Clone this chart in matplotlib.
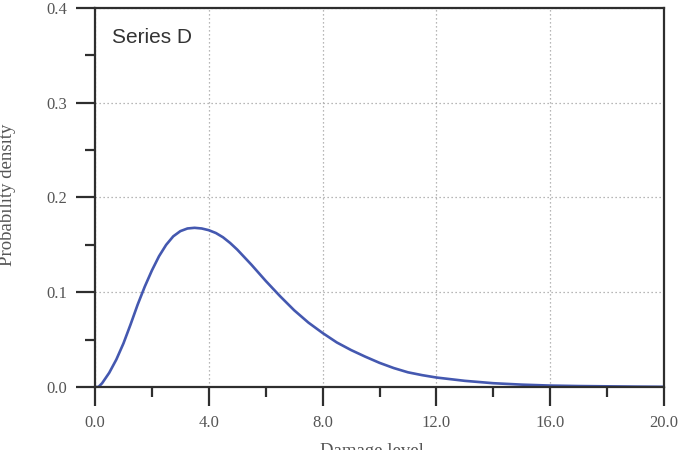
import matplotlib
matplotlib.use("Agg")
import matplotlib.pyplot as plt
from matplotlib.ticker import MultipleLocator, FormatStrFormatter

# --- Data ---
damage = [0.0, 0.12, 0.25, 0.5, 0.75, 1.0, 1.25, 1.5, 1.75, 2.0, 2.25, 2.5, 2.75,
          3.0, 3.25, 3.5, 3.75, 4.0, 4.25, 4.5, 4.75, 5.0, 5.25, 5.5, 5.75,
          6.0, 6.25, 6.5, 6.75, 7.0, 7.25, 7.5, 7.75, 8.0, 8.5, 9.0, 9.5,
          10.0, 10.5, 11.0, 11.5, 12.0, 13.0, 14.0, 15.0, 16.0, 17.0, 18.0,
          19.0, 20.0]
density = [0.0, 0.0, 0.004, 0.015, 0.029, 0.046, 0.066, 0.087, 0.106, 0.123,
           0.138, 0.150, 0.159, 0.1645, 0.1673, 0.168, 0.1673, 0.1655, 0.1625,
           0.158, 0.152, 0.145, 0.137, 0.129, 0.1205, 0.112, 0.104, 0.096,
           0.0885, 0.081, 0.0745, 0.068, 0.0625, 0.057, 0.047, 0.039, 0.032,
           0.0255, 0.020, 0.0155, 0.0125, 0.010, 0.0065, 0.004, 0.0025, 0.0015,
           0.001, 0.0007, 0.0004, 0.0002]
series_name = "Series D"

# --- Figure ---
fig = plt.figure(figsize=(6.85, 4.5), dpi=100)
ax = fig.add_axes([95 / 685, 1 - 387 / 450, 569 / 685, 379 / 450])

ax.plot(damage, density, color="#4458b0", lw=1.9, solid_joinstyle="round",
        solid_capstyle="round")

ax.set_xlim(0, 20)
ax.set_ylim(0, 0.4)
ax.xaxis.set_major_locator(MultipleLocator(4))
ax.xaxis.set_minor_locator(MultipleLocator(2))
ax.yaxis.set_major_locator(MultipleLocator(0.1))
ax.yaxis.set_minor_locator(MultipleLocator(0.05))
ax.xaxis.set_major_formatter(FormatStrFormatter("%.1f"))
ax.yaxis.set_major_formatter(FormatStrFormatter("%.1f"))

ax.grid(True, which="major", color="#a0a0a0", lw=0.9, linestyle=(0, (1, 2.2)))

for sp in ax.spines.values():
    sp.set_linewidth(1.6)
    sp.set_color("#2e2e2e")

ax.tick_params(which="major", direction="out", length=14, width=1.6,
               color="#2e2e2e", labelsize=12, labelcolor="#555555", pad=6)
ax.tick_params(which="minor", direction="out", length=7, width=1.6,
               color="#2e2e2e")
for lbl in ax.get_xticklabels() + ax.get_yticklabels():
    lbl.set_family("Liberation Serif")

ax.text(0.030, 0.907, series_name, transform=ax.transAxes, fontsize=15,
        family="Liberation Sans", color="#333333", va="baseline")

fig.text(372 / 685, 1 - 452 / 450, "Damage level", ha="center", va="center",
         fontsize=13.5, family="Liberation Serif", color="#555555")
fig.text(8 / 685, 1 - 195 / 450, "Probability density", ha="center", va="center",
         rotation=90, fontsize=13.5, family="Liberation Serif", color="#555555")

fig.savefig("out.png", dpi=100)
